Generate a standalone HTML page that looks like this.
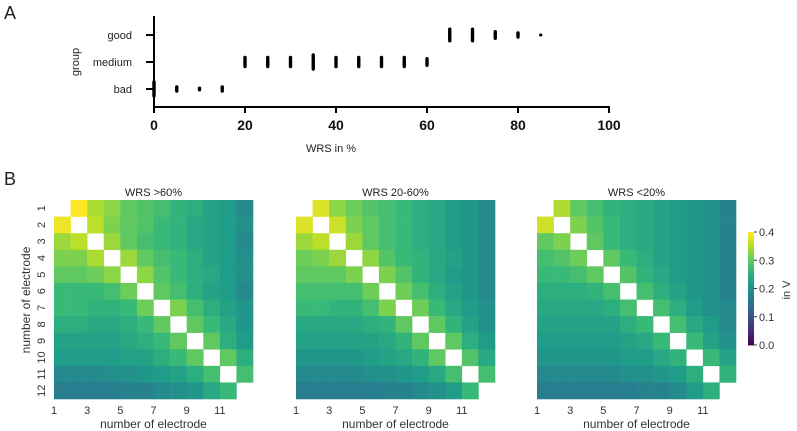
<!DOCTYPE html>
<html><head><meta charset="utf-8">
<style>
body{margin:0;background:#fff;font-family:"Liberation Sans","DejaVu Sans",sans-serif;}
svg{display:block}
</style></head>
<body>
<svg id="fig" width="797" height="431" viewBox="0 0 797 431" xmlns="http://www.w3.org/2000/svg">
<text x="4" y="19" font-size="18" fill="#222">A</text>
<text x="4" y="185" font-size="18" fill="#222">B</text>
<g id="topplot"></g>
<g id="heat"></g>
</svg>
<script>
const NS="http://www.w3.org/2000/svg";
function mk(p,tag,attrs,txt){const e=document.createElementNS(NS,tag);for(const k in attrs)e.setAttribute(k,attrs[k]);if(txt!==undefined)e.textContent=txt;p.appendChild(e);return e;}

// ---- strip plot data ----
const groups=["good","medium","bad"];
const goodValues=[65,70,75,80,85];
const goodCounts=[6,6,4,3,1];
const mediumValues=[20,25,30,35,40,45,50,55,60];
const mediumCounts=[5,5,5,7,5,5,5,5,4];
const badValues=[0,5,10,15];
const badCounts=[7,3,2,3];
const xTicks=[0,20,40,60,80,100];

const topG=document.getElementById('topplot');
const xS=v=>154+v*(609-154)/100;
const gY={good:35,medium:62,bad:89};
let e;
e=mk(topG,'line',{x1:154,y1:16,x2:154,y2:107,stroke:'#000','stroke-width':2});

e=mk(topG,'line',{x1:153,y1:107,x2:610,y2:107,stroke:'#000','stroke-width':2});

groups.forEach(g=>{
  const t=mk(topG,'line',{x1:146,y1:gY[g],x2:154,y2:gY[g],stroke:'#000','stroke-width':2});
  
  const l=mk(topG,'text',{x:132,y:gY[g]+4,'font-size':11,'text-anchor':'end',fill:'#222'},g);
  
});
xTicks.forEach(v=>{
  const t=mk(topG,'line',{x1:xS(v),y1:107,x2:xS(v),y2:113,stroke:'#000','stroke-width':2});
  
  const l=mk(topG,'text',{x:xS(v),y:130,'font-size':14,'font-weight':'bold','text-anchor':'middle',fill:'#111'},v);
  
});
e=mk(topG,'text',{x:331,y:152,'font-size':11,'text-anchor':'middle',fill:'#222'},'WRS in %');

e=mk(topG,'text',{x:0,y:0,'font-size':11,'text-anchor':'middle',fill:'#222',transform:'translate(79,62) rotate(-90)'},'group');

function strip(vals,counts,g){
  vals.forEach((v,i)=>{
    const h=Math.max(3,counts[i]*2.5);
    const r=mk(topG,'rect',{x:xS(v)-1.7,y:gY[g]-h/2,width:3.4,height:h,rx:1.7,fill:'#000'});
    
  });
}
strip(goodValues,goodCounts,'good');strip(mediumValues,mediumCounts,'medium');strip(badValues,badCounts,'bad');

// ---- heatmap data (V) ----
const N=null;
const titles=["WRS >60%","WRS 20-60%","WRS <20%"];
const matGood=[
[N,.40,.35,.33,.30,.29,.28,.26,.25,.23,.22,.19],
[.39,N,.36,.32,.30,.29,.27,.26,.24,.23,.22,.20],
[.34,.36,N,.34,.30,.28,.27,.26,.24,.23,.22,.19],
[.32,.32,.35,N,.34,.30,.28,.27,.25,.23,.22,.20],
[.30,.30,.31,.33,N,.33,.29,.27,.25,.24,.22,.20],
[.27,.27,.27,.28,.31,N,.30,.28,.25,.23,.22,.19],
[.27,.27,.26,.26,.27,.31,N,.32,.28,.25,.23,.21],
[.25,.25,.24,.24,.25,.27,.30,N,.30,.27,.24,.21],
[.23,.23,.23,.23,.24,.25,.27,.30,N,.30,.25,.22],
[.22,.22,.22,.22,.23,.23,.25,.27,.30,N,.30,.25],
[.19,.19,.19,.20,.20,.21,.22,.23,.25,.28,N,.28],
[.17,.17,.17,.17,.18,.18,.19,.20,.21,.24,.27,N]];
const matMedium=[
[N,.38,.33,.31,.29,.28,.27,.25,.24,.22,.21,.19],
[.38,N,.37,.32,.30,.28,.27,.25,.24,.22,.21,.19],
[.34,.36,N,.34,.30,.28,.27,.25,.24,.22,.21,.19],
[.31,.32,.34,N,.33,.29,.27,.26,.24,.23,.21,.19],
[.30,.30,.30,.32,N,.32,.29,.26,.24,.22,.21,.19],
[.28,.28,.28,.28,.31,N,.31,.28,.25,.23,.21,.19],
[.27,.27,.26,.26,.28,.32,N,.31,.27,.24,.22,.20],
[.24,.24,.24,.24,.25,.26,.30,N,.30,.26,.23,.20],
[.23,.23,.23,.23,.23,.24,.26,.30,N,.30,.25,.22],
[.21,.21,.21,.21,.22,.23,.24,.26,.30,N,.29,.24],
[.19,.19,.19,.19,.20,.20,.21,.22,.24,.28,N,.28],
[.17,.17,.17,.17,.17,.18,.18,.19,.20,.22,.27,N]];
const matBad=[
[N,.35,.30,.28,.26,.25,.24,.23,.22,.21,.20,.18],
[.37,N,.32,.29,.27,.25,.24,.23,.22,.21,.20,.18],
[.30,.32,N,.30,.27,.25,.24,.23,.22,.21,.20,.18],
[.28,.29,.31,N,.30,.27,.25,.23,.22,.21,.20,.18],
[.27,.27,.28,.30,N,.29,.26,.24,.22,.21,.20,.18],
[.25,.25,.25,.26,.28,N,.28,.25,.23,.21,.20,.18],
[.24,.24,.24,.24,.25,.28,N,.28,.25,.22,.20,.19],
[.23,.23,.23,.23,.23,.25,.27,N,.28,.24,.22,.19],
[.22,.22,.22,.22,.22,.23,.24,.27,N,.27,.23,.20],
[.21,.21,.21,.21,.21,.22,.22,.24,.26,N,.27,.23],
[.19,.19,.19,.19,.19,.20,.20,.21,.22,.25,N,.26],
[.17,.17,.17,.17,.17,.17,.18,.18,.19,.22,.25,N]];
const mats=[matGood,matMedium,matBad];
const xTickLabels=[1,3,5,7,9,11];
const yTickLabels=[1,2,3,4,5,6,7,8,9,10,11,12];
const cbTicks=[0.0,0.1,0.2,0.3,0.4];
const vmin=0,vmax=0.4;

const vir=[[68,1,84],[72,40,120],[62,74,137],[49,104,142],[38,130,142],[31,158,137],[53,183,121],[110,206,88],[181,222,43],[253,231,37]];
function viridis(t){t=Math.max(0,Math.min(1,t));const p=t*(vir.length-1),i=Math.min(vir.length-2,Math.floor(p)),f=p-i;
const c=vir[i].map((a,k)=>Math.round(a+(vir[i+1][k]-a)*f));return `rgb(${c[0]},${c[1]},${c[2]})`;}

const heat=document.getElementById('heat');
const x0s=[54,296,537],y0=200,size=199,cell=size/12;
mats.forEach((m,p)=>{
  const g=mk(heat,'g',{});
  
  const x0=x0s[p];
  m.forEach((row,r)=>row.forEach((v,c)=>{
    if(v===null)return;
    const rc=mk(g,'rect',{x:x0+c*cell,y:y0+r*cell,width:cell+0.3,height:cell+0.3,fill:viridis((v-vmin)/(vmax-vmin))});
    
  }));
  const t=mk(g,'text',{x:x0+size/2,y:196,'font-size':11,'text-anchor':'middle',fill:'#222'},titles[p]);
  
  xTickLabels.forEach(n=>{
    const l=mk(g,'text',{x:x0+(n-1)*cell,y:414,'font-size':11,'text-anchor':'middle',fill:'#333'},n);
    
  });
  const xl=mk(g,'text',{x:x0+size/2,y:428,'font-size':12,'text-anchor':'middle',fill:'#333'},'number of electrode');
  
});
yTickLabels.forEach((n,i)=>{
  const cy=y0+(i+0.5)*cell;
  const l=mk(heat,'text',{x:0,y:0,'font-size':11,'text-anchor':'middle',fill:'#333',transform:`translate(45,${cy}) rotate(-90)`},n);
  
});
e=mk(heat,'text',{x:0,y:0,'font-size':12,'text-anchor':'middle',fill:'#333',transform:'translate(30,300) rotate(-90)'},'number of electrode');


// colorbar
const cbX=748,cbW=6,cbTop=232,cbBot=345;
const cb=mk(heat,'g',{});

for(let i=0;i<113;i++){
  const r=mk(cb,'rect',{x:cbX,y:cbBot-(i+1)*(cbBot-cbTop)/113,width:cbW,height:(cbBot-cbTop)/113+0.4,fill:viridis(i/112)});
  
}
cbTicks.forEach(v=>{
  const y=cbBot-(v-vmin)/(vmax-vmin)*(cbBot-cbTop);
  const t=mk(cb,'line',{x1:cbX+cbW,y1:y,x2:cbX+cbW+3,y2:y,stroke:'#333','stroke-width':1});
  
  const l=mk(cb,'text',{x:cbX+cbW+5,y:y+4,'font-size':11,fill:'#333'},v.toFixed(1));
  
});
e=mk(cb,'text',{x:0,y:0,'font-size':11,'text-anchor':'middle',fill:'#333',transform:'translate(790,290) rotate(-90)'},'in V');

</script>
</body></html>
